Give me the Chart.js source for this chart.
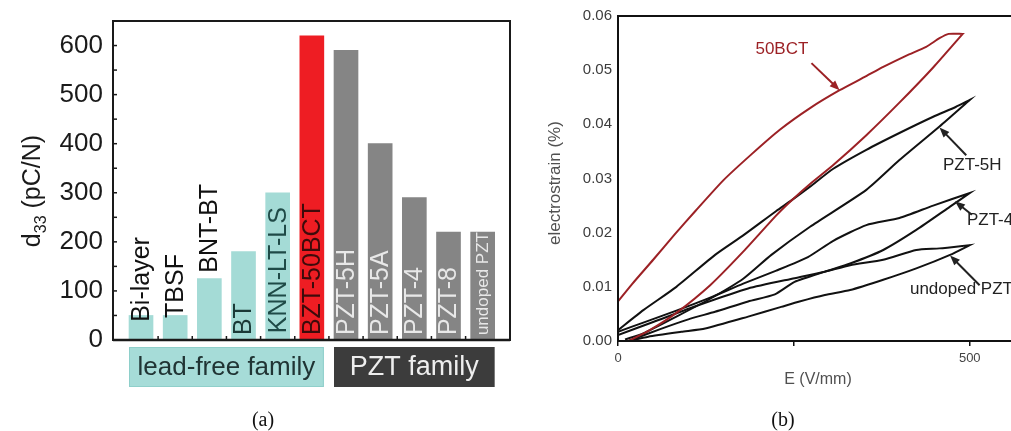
<!DOCTYPE html>
<html>
<head>
<meta charset="utf-8">
<script src="https://cdn.jsdelivr.net/npm/chart.js@4.4.1/dist/chart.umd.min.js"></script>
<style>
  html, body { margin: 0; padding: 0; background: #fff; overflow: hidden; }
  #wrap { position: relative; width: 1011px; height: 431px; overflow: hidden; }
  #panelA { position: absolute; left: 0; top: 0; }
  #panelB { position: absolute; left: 520px; top: 0; }
</style>
</head>
<body>
<div id="wrap">
  <canvas id="panelA" width="520" height="431"></canvas>
  <canvas id="panelB" width="500" height="431"></canvas>
</div>
<script>
// ---------- panel (a): d33 of lead-free vs PZT ceramics ----------
const materials = ["Bi-layer", "TBSF", "BNT-BT", "BT", "KNN-LT-LS", "BZT-50BCT",
                   "PZT-5H", "PZT-5A", "PZT-4", "PZT-8", "undoped PZT"];
const d33 = [50, 50, 125, 180, 300, 620, 590, 400, 290, 220, 220];
const familyNames = ["lead-free family", "PZT family"];
const familyOf = [0, 0, 0, 0, 0, 0, 1, 1, 1, 1, 1];
const highlighted = "BZT-50BCT";
const d33Ticks = [0, 100, 200, 300, 400, 500, 600];
// where each rotated bar label starts (in d33 units)
const labelBase = [37, 45, 137, 10, 14, 10, 10, 10, 10, 10, 10];

// ---------- panel (b): electrostrain loops, [E (V/mm), strain (%)] ----------
const bct50Rise = [[15, 0], [45, 0.0020], [83, 0.0052], [131, 0.0103], [178, 0.0165], [225, 0.0232],
                   [247, 0.0260], [273, 0.0290], [306, 0.0325], [353, 0.0380], [400, 0.0440],
                   [448, 0.0505], [490, 0.0567]];
const bct50Fall = [[490, 0.0567], [470, 0.0567], [457, 0.0559], [438, 0.0543], [410, 0.0527],
                   [377, 0.0506], [350, 0.0487], [315, 0.0463], [273, 0.0430], [230, 0.0390],
                   [190, 0.0345], [150, 0.0297], [110, 0.0240], [80, 0.0196], [50, 0.0150],
                   [20, 0.0105], [0, 0.0073]];
const pzt5hRise = [[10, 0.0003], [36, 0.0014], [83, 0.0045], [131, 0.0078], [178, 0.0115],
                   [218, 0.0159], [273, 0.0211], [353, 0.0279], [400, 0.0334], [457, 0.0396],
                   [500, 0.0445]];
const pzt5hFall = [[500, 0.0445], [480, 0.0432], [448, 0.0414], [400, 0.0384], [353, 0.0353],
                   [306, 0.0318], [273, 0.0285], [247, 0.0260], [225, 0.0240], [178, 0.0195],
                   [138, 0.0159], [83, 0.0100], [36, 0.0057], [0, 0.0020]];
const pzt4Rise = [[15, 0], [60, 0.0022], [100, 0.0040], [138, 0.0054], [185, 0.0073], [223, 0.0086],
                  [251, 0.0109], [294, 0.0128], [330, 0.0143], [377, 0.0168], [424, 0.0205],
                  [472, 0.0248], [500, 0.0273]];
const pzt4Fall = [[500, 0.0273], [448, 0.0250], [400, 0.0227], [353, 0.0214], [306, 0.0185],
                  [270, 0.0155], [225, 0.0130], [178, 0.0106], [131, 0.0080], [83, 0.0056],
                  [36, 0.0034], [0, 0.0017]];
const undopedRise = [[15, 0], [43, 0.0008], [90, 0.0017], [124, 0.0023], [185, 0.0045],
                     [232, 0.0063], [258, 0.0073], [294, 0.0085], [330, 0.0094], [377, 0.0113],
                     [424, 0.0134], [472, 0.0159], [500, 0.0177]];
const undopedFall = [[500, 0.0177], [457, 0.0171], [424, 0.0168], [377, 0.0150], [330, 0.0140],
                     [294, 0.0128], [251, 0.0116], [185, 0.0097], [114, 0.0066], [50, 0.0035],
                     [0, 0.0011]];
const strainTicks = [0, 0.01, 0.02, 0.03, 0.04, 0.05, 0.06];
const fieldTicks = [0, 250, 500];
const fieldTickLabels = ["0", "", "500"];

// ---------- styles ----------
const SANS = "'Liberation Sans', Arial, sans-serif";
const SERIF = "'Liberation Serif', 'Times New Roman', serif";
const TEAL = "#a4dbd6";
const GREY = "#858585";
const RED = "#ee1d23";
const LOOP_RED = "#9c2125";
const labelColors = ["#111", "#111", "#111", "#1b3937", "#1f4a47", "#3d0b0b",
                     "#e8e8e8", "#e8e8e8", "#e8e8e8", "#e8e8e8", "#e8e8e8"];

const barColors = materials.map((m, i) =>
  m === highlighted ? RED : (familyOf[i] === 0 ? TEAL : GREY));

const panelAExtras = {
  id: "panelAExtras",
  afterDatasetsDraw(chart) {
    const ctx = chart.ctx;
    const area = chart.chartArea;
    const xs = chart.scales.x;
    const ys = chart.scales.y;
    ctx.save();

    // rotated labels inside the bars
    materials.forEach((name, i) => {
      const x = xs.getPixelForValue(i + 1);
      const y = ys.getPixelForValue(labelBase[i]);
      ctx.save();
      ctx.translate(x, y);
      ctx.rotate(-Math.PI / 2);
      ctx.font = (name === "undoped PZT" ? "17px " : "25px ") + SANS;
      ctx.fillStyle = labelColors[i];
      ctx.textAlign = "left";
      ctx.textBaseline = "middle";
      ctx.fillText(name, 0, 1);
      ctx.restore();
    });

    // frame
    ctx.strokeStyle = "#1a1a1a";
    ctx.lineWidth = 2;
    ctx.strokeRect(area.left, area.top, area.right - area.left, area.bottom - area.top);
    ctx.lineWidth = 2.5;
    ctx.beginPath();
    ctx.moveTo(area.left, area.bottom);
    ctx.lineTo(area.right, area.bottom);
    ctx.stroke();

    // inner ticks on the y axis, every 50
    ctx.lineWidth = 1.5;
    for (let v = 0; v <= ys.max; v += 50) {
      const y = ys.getPixelForValue(v);
      ctx.beginPath();
      ctx.moveTo(area.left, y);
      ctx.lineTo(area.left + 4, y);
      ctx.stroke();
    }
    // inner ticks on the x axis between the bars
    for (let i = 1; i < materials.length; i++) {
      const x = xs.getPixelForValue(i + 0.5);
      ctx.beginPath();
      ctx.moveTo(x, area.bottom);
      ctx.lineTo(x, area.bottom - 4);
      ctx.stroke();
    }

    // family boxes under the axis
    familyNames.forEach((fam, f) => {
      const idx = familyOf.map((g, i) => (g === f ? i : -1)).filter(i => i >= 0);
      const left = xs.getPixelForValue(idx[0] + 1) - 12;
      const right = xs.getPixelForValue(idx[idx.length - 1] + 1) + 12;
      const top = area.bottom + 7;
      const h = 40;
      ctx.fillStyle = f === 0 ? "#a6dcd8" : "#3c3c3c";
      ctx.fillRect(left, top, right - left, h);
      if (f === 0) {
        ctx.strokeStyle = "#8fcfca";
        ctx.lineWidth = 1;
        ctx.strokeRect(left + 0.5, top + 0.5, right - left - 1, h - 1);
      }
      ctx.fillStyle = f === 0 ? "#203434" : "#eeeeee";
      ctx.font = (f === 0 ? "26px " : "27px ") + SANS;
      ctx.textAlign = "center";
      ctx.textBaseline = "middle";
      ctx.fillText(fam, (left + right) / 2, top + h / 2 + 1);
    });

    // y title with subscript: d33 (pC/N)
    ctx.save();
    ctx.translate(40, 191);
    ctx.rotate(-Math.PI / 2);
    ctx.fillStyle = "#1a1a1a";
    ctx.textBaseline = "alphabetic";
    ctx.font = "25px " + SANS;
    const wD = ctx.measureText("d").width;
    const wRest = ctx.measureText(" (pC/N)").width;
    ctx.font = "16px " + SANS;
    const wSub = ctx.measureText("33").width;
    let x0 = -(wD + wSub + wRest) / 2;
    ctx.textAlign = "left";
    ctx.font = "25px " + SANS;
    ctx.fillText("d", x0, 0);
    ctx.font = "16px " + SANS;
    ctx.fillText("33", x0 + wD, 6);
    ctx.font = "25px " + SANS;
    ctx.fillText(" (pC/N)", x0 + wD + wSub, 0);
    ctx.restore();

    // panel caption
    ctx.fillStyle = "#111";
    ctx.font = "20px " + SERIF;
    ctx.textAlign = "center";
    ctx.textBaseline = "middle";
    ctx.fillText("(a)", 263, 421);
    ctx.restore();
  }
};

new Chart(document.getElementById("panelA"), {
  type: "bar",
  data: {
    datasets: [{
      data: d33.map((v, i) => ({ x: i + 1, y: v })),
      backgroundColor: barColors,
      borderWidth: 0,
      barThickness: 24
    }]
  },
  options: {
    responsive: false,
    devicePixelRatio: 1,
    animation: false,
    layout: { padding: { left: 0, top: 21, right: 10, bottom: 91 } },
    plugins: { legend: { display: false }, tooltip: { enabled: false } },
    scales: {
      x: { type: "linear", min: 0.18, max: 11.8, offset: false, display: false },
      y: {
        min: 0,
        max: 650,
        afterBuildTicks: s => { s.ticks = d33Ticks.map(v => ({ value: v })); },
        afterFit: s => { s.width = 113; s.paddingTop = 0; s.paddingBottom = 0; },
        grid: { display: false, drawTicks: false },
        border: { display: false },
        ticks: { font: { family: SANS, size: 26 }, color: "#1a1a1a", padding: 10 }
      }
    }
  },
  plugins: [panelAExtras]
});

// ---------- panel (b) ----------
const loops = [
  { label: "50BCT", rise: bct50Rise, fall: bct50Fall, color: LOOP_RED },
  { label: "PZT-5H", rise: pzt5hRise, fall: pzt5hFall, color: "#111" },
  { label: "PZT-4", rise: pzt4Rise, fall: pzt4Fall, color: "#111" },
  { label: "undoped PZT", rise: undopedRise, fall: undopedFall, color: "#111" }
];

// label text anchor and arrow [from, to] in data units
const callouts = [
  { text: "50BCT", at: [233, 0.0539], align: "center", from: [275, 0.0513], to: [315, 0.0463], color: LOOP_RED },
  { text: "PZT-5H", at: [462, 0.0325], align: "left", from: [495, 0.0343], to: [457, 0.0394], color: "#222" },
  { text: "PZT-4", at: [496, 0.0223], align: "left", from: [503, 0.0233], to: [479, 0.0258], color: "#222" },
  { text: "undoped PZT", at: [415, 0.0095], align: "left", from: [514, 0.0103], to: [472, 0.0158], color: "#222" }
];

function drawArrow(ctx, x1, y1, x2, y2, color) {
  const a = Math.atan2(y2 - y1, x2 - x1);
  const c = Math.cos(a), s = Math.sin(a);
  ctx.strokeStyle = color;
  ctx.fillStyle = color;
  ctx.lineWidth = 2;
  ctx.beginPath();
  ctx.moveTo(x1, y1);
  ctx.lineTo(x2 - 6 * c, y2 - 6 * s);
  ctx.stroke();
  ctx.beginPath();
  ctx.moveTo(x2, y2);
  ctx.lineTo(x2 - 10 * c + 4 * s, y2 - 10 * s - 4 * c);
  ctx.lineTo(x2 - 10 * c - 4 * s, y2 - 10 * s + 4 * c);
  ctx.closePath();
  ctx.fill();
}

const panelBExtras = {
  id: "panelBExtras",
  afterDatasetsDraw(chart) {
    const ctx = chart.ctx;
    const area = chart.chartArea;
    const xs = chart.scales.x;
    const ys = chart.scales.y;
    ctx.save();

    ctx.strokeStyle = "#111";
    ctx.lineWidth = 2;
    ctx.strokeRect(area.left, area.top, area.right - area.left, area.bottom - area.top);

    callouts.forEach(c => {
      ctx.font = "17px " + SANS;
      ctx.fillStyle = c.color;
      ctx.textAlign = c.align;
      ctx.textBaseline = "middle";
      ctx.fillText(c.text, xs.getPixelForValue(c.at[0]), ys.getPixelForValue(c.at[1]));
      drawArrow(ctx,
        xs.getPixelForValue(c.from[0]), ys.getPixelForValue(c.from[1]),
        xs.getPixelForValue(c.to[0]), ys.getPixelForValue(c.to[1]), c.color);
    });

    // axis titles
    ctx.fillStyle = "#505050";
    ctx.font = "16px " + SANS;
    ctx.textAlign = "center";
    ctx.textBaseline = "middle";
    ctx.fillText("E (V/mm)", 298, 380);
    ctx.save();
    ctx.translate(35, 183);
    ctx.rotate(-Math.PI / 2);
    ctx.font = "17px " + SANS;
    ctx.fillText("electrostrain (%)", 0, 0);
    ctx.restore();

    ctx.fillStyle = "#111";
    ctx.font = "20px " + SERIF;
    ctx.fillText("(b)", 263, 421);
    ctx.restore();
  }
};

new Chart(document.getElementById("panelB"), {
  type: "line",
  data: {
    datasets: loops.map(l => ({
      label: l.label,
      data: l.rise.concat(l.fall).map(([x, y]) => ({ x, y })),
      borderColor: l.color,
      borderWidth: 2,
      pointRadius: 0,
      tension: 0.2,
      fill: false
    }))
  },
  options: {
    responsive: false,
    devicePixelRatio: 1,
    animation: false,
    layout: { padding: { left: 0, top: 16, right: 1, bottom: 60 } },
    plugins: { legend: { display: false }, tooltip: { enabled: false } },
    scales: {
      x: {
        type: "linear",
        min: 0,
        max: 570,
        afterBuildTicks: s => { s.ticks = fieldTicks.map(v => ({ value: v })); },
        afterFit: s => { s.height = 30; s.paddingLeft = 0; s.paddingRight = 0; },
        grid: { drawOnChartArea: false, drawTicks: true, tickLength: 5, color: "#111", lineWidth: 1.5 },
        border: { display: false },
        ticks: {
          font: { family: SANS, size: 13 },
          color: "#444",
          padding: 5,
          maxRotation: 0,
          callback: v => fieldTickLabels[fieldTicks.indexOf(v)]
        }
      },
      y: {
        min: 0,
        max: 0.06,
        afterBuildTicks: s => { s.ticks = strainTicks.map(v => ({ value: v })); },
        afterFit: s => { s.width = 98; s.paddingTop = 0; s.paddingBottom = 0; },
        grid: { display: false, drawTicks: false },
        border: { display: false },
        ticks: {
          font: { family: SANS, size: 15 },
          color: "#3c3c3c",
          padding: 6,
          callback: v => v.toFixed(2)
        }
      }
    }
  },
  plugins: [panelBExtras]
});
</script>
</body>
</html>
